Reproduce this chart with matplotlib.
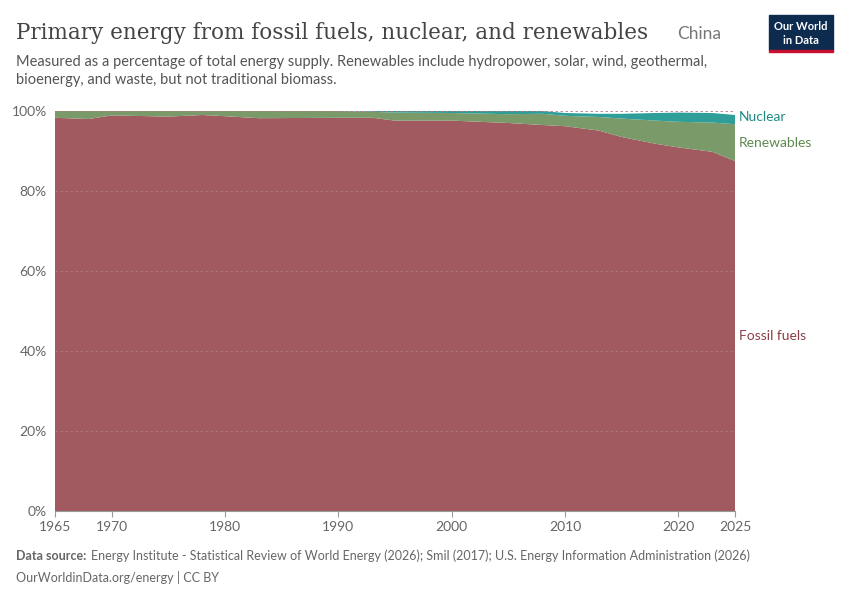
import matplotlib.pyplot as plt
import numpy as np
plt.rcParams['font.family'] = ['Lato', 'DejaVu Sans']

years = [1965,1968,1970,1975,1978,1980,1983,1990,1993,1995,2000,2005,2008,2010,2013,2015,2018,2020,2023,2025]
fossil = [98.3,98.0,98.9,98.6,99.0,98.7,98.2,98.3,98.3,97.6,97.6,97.0,96.5,96.2,95.1,93.5,91.8,90.9,89.8,87.5]
renew  = [1.7,2.0,1.1,1.4,1.0,1.3,1.8,1.7,1.5,2.0,1.9,2.2,2.8,2.6,3.4,4.6,5.8,6.4,7.3,9.2]
nuclear= [0,0,0,0,0,0,0,0,0.2,0.4,0.5,0.8,0.7,0.7,0.8,1.2,1.9,2.3,2.4,2.3]

fig = plt.figure(figsize=(8.5,6), dpi=100)
ax = fig.add_axes([55/850, 89/600, 680/850, 400/600])
c_f, c_r, c_n = '#a05a60', '#7a9a6a', '#2f9e98'
ax.stackplot(years, fossil, renew, nuclear, colors=[c_f, c_r, c_n], linewidth=0)
ax.set_xlim(1965, 2025); ax.set_ylim(0, 100)
ax.set_yticks(range(0,101,20))
ax.set_yticklabels([f'{v}%' for v in range(0,101,20)])
ax.set_xticks([1965,1970,1980,1990,2000,2010,2020,2025])
ax.set_xticklabels(['1965','1970','1980','1990','2000','2010','2020','2025'])
for s in ['top','right','left']: ax.spines[s].set_visible(False)
ax.spines['bottom'].set_color('#999')
ax.tick_params(axis='y', length=0, labelsize=10, colors='#666', pad=6)
ax.tick_params(axis='x', labelsize=10, colors='#666', length=4, color='#999')
ax.yaxis.grid(True, linestyle=(0,(3,3)), color='#b07a7e', linewidth=0.6)
ax.text(1.006, 98.4/100, 'Nuclear', transform=ax.transAxes, color='#1f8a84', fontsize=10, va='center')
ax.text(1.006, 92.0/100, 'Renewables', transform=ax.transAxes, color='#5d8a4e', fontsize=10, va='center')
ax.text(1.006, 43.8/100, 'Fossil fuels', transform=ax.transAxes, color='#8a3f47', fontsize=10, va='center')

fig.text(16/850, 1-33/600, 'Primary energy from fossil fuels, nuclear, and renewables', fontsize=15.5, family='DejaVu Serif', color='#444', va='center')
fig.text(677/850, 1-34/600, 'China', fontsize=12.5, color='#777', va='center')
fig.text(16/850, 1-62/600, 'Measured as a percentage of total energy supply. Renewables include hydropower, solar, wind, geothermal,', fontsize=10.5, color='#555', va='center')
fig.text(16/850, 1-80/600, 'bioenergy, and waste, but not traditional biomass.', fontsize=10.5, color='#555', va='center')
fig.patches.append(plt.Rectangle((769/850, 1-50/600), 64/850, 35/600, transform=fig.transFigure, color='#0d2a4f'))
fig.patches.append(plt.Rectangle((769/850, 1-52/600), 64/850, 2.5/600, transform=fig.transFigure, color='#c8102e'))
fig.text(801/850, 1-26/600, 'Our World', fontsize=8, color='white', ha='center', va='center', weight='bold')
fig.text(801/850, 1-40/600, 'in Data', fontsize=8, color='white', ha='center', va='center', weight='bold')
fig.text(16/850, 1-556/600, 'Data source:', fontsize=9, color='#666', va='center', weight='bold')
fig.text(91/850, 1-556/600, 'Energy Institute - Statistical Review of World Energy (2026); Smil (2017); U.S. Energy Information Administration (2026)', fontsize=9, color='#666', va='center')
fig.text(16/850, 1-577/600, 'OurWorldinData.org/energy | CC BY', fontsize=9, color='#666', va='center')
fig.savefig('out.png')
